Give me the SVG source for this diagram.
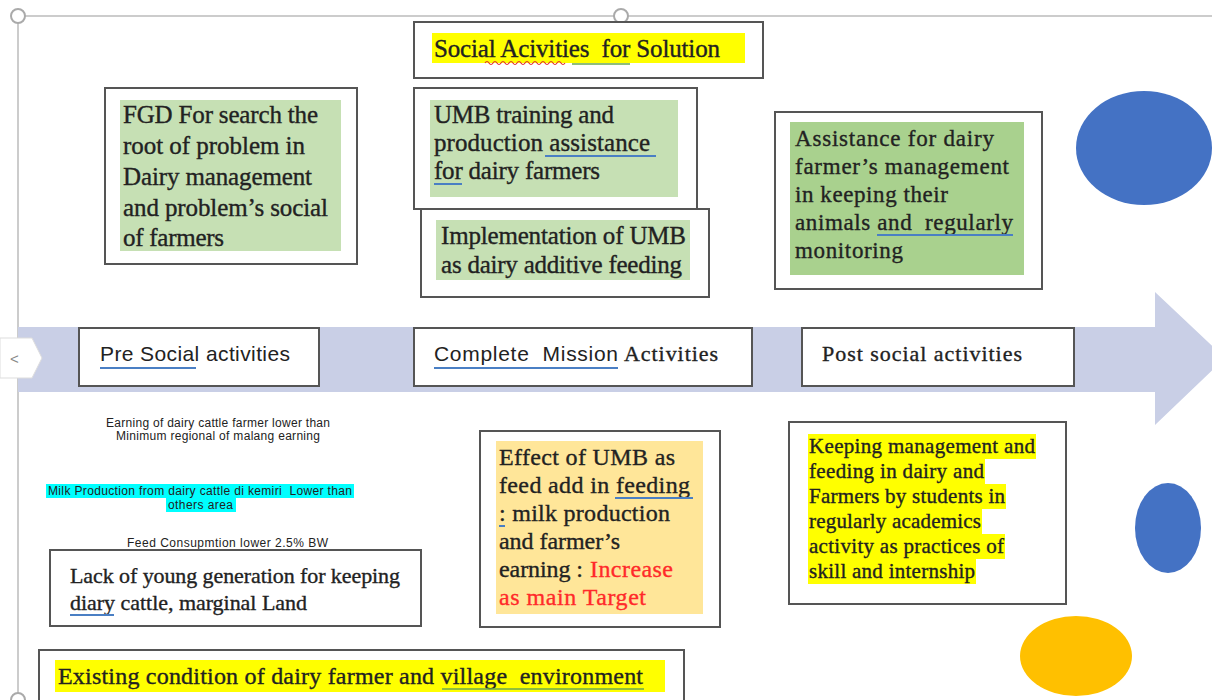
<svg xmlns="http://www.w3.org/2000/svg" width="1212" height="700" viewBox="0 0 1212 700">
  <style>
    .box { fill: #ffffff; stroke: #555555; stroke-width: 2; }
    .serif { font-family: "Liberation Serif", "Times New Roman", serif; fill: #222222; stroke: #222222; stroke-width: 0.35; }
    .sans { font-family: "Liberation Sans", Arial, sans-serif; fill: #222222; }
    .green { fill: #c6e0b4; }
    .green2 { fill: #a9d18e; }
    .hl { fill: #ffff00; }
    .red { fill: #ff2a2a; stroke: #ff2a2a; }
    .ul-blue { stroke: #4a7fc4; stroke-width: 2; fill: none; }
    .ul-green { stroke: #6aa84f; stroke-width: 1.5; fill: none; }
    .handle { fill: #ffffff; stroke: #aaaaaa; stroke-width: 2; }
  </style>

  <rect x="0" y="0" width="1212" height="700" fill="#ffffff"/>

  <!-- canvas frame -->
  <g id="frame">
    <line x1="18" y1="16" x2="1212" y2="16" stroke="#cccccc" stroke-width="2"/>
    <line x1="18" y1="16" x2="18" y2="700" stroke="#cccccc" stroke-width="2"/>
    <circle class="handle" cx="18" cy="16" r="7"/>
    <circle class="handle" cx="621" cy="16" r="7"/>
    <circle class="handle" cx="18" cy="700" r="7"/>
    <circle class="handle" cx="621" cy="700" r="7"/>
  </g>

  <!-- timeline arrow -->
  <g id="connectors">
    <polygon points="18,327 1155,327 1155,292 1225,358 1155,425 1155,392 18,392" fill="#c9cfe6"/>
  </g>

  <!-- collapse tab -->
  <g id="tab">
    <polygon points="0,338 32,338 42,358 32,378 0,378" fill="#ffffff" stroke="#dddddd" stroke-width="1"/>
    <text x="10" y="364" font-family="Liberation Sans, Arial, sans-serif" font-size="15" fill="#888888">&lt;</text>
  </g>

  <!-- decorative ellipses -->
  <g id="shapes">
    <ellipse cx="1144" cy="148" rx="68" ry="57" fill="#4472c4"/>
    <ellipse cx="1168" cy="528" rx="33" ry="45" fill="#4472c4"/>
    <ellipse cx="1076" cy="656" rx="56" ry="40" fill="#ffc000"/>
  </g>

  <!-- title -->
  <g id="node-solution">
    <rect class="box" x="414" y="22" width="349" height="56"/>
    <rect class="hl" x="432" y="33" width="313" height="30"/>
    <text class="serif" x="434" y="57" font-size="25" textLength="286">Social Acivities &#160;for Solution</text>
    <path d="M485,63 q2,-3 4,0 t4,0 t4,0 t4,0 t4,0 t4,0 t4,0 t4,0 t4,0 t4,0 t4,0 t4,0 t4,0 t4,0 t4,0 t4,0 t4,0 t4,0 t4,0 t4,0" stroke="#e03030" stroke-width="1.2" fill="none"/>
    <line class="ul-green" x1="572" y1="64" x2="630" y2="64"/>
  </g>

  <g id="node-fgd">
    <rect class="box" x="105" y="88" width="252" height="176"/>
    <rect class="green" x="120" y="100" width="221" height="151"/>
    <text class="serif" font-size="25">
      <tspan x="123" y="123" textLength="195">FGD For search the</tspan>
      <tspan x="123" y="154" textLength="182">root of problem in</tspan>
      <tspan x="123" y="185" textLength="189">Dairy management</tspan>
      <tspan x="123" y="216" textLength="205">and problem’s social</tspan>
      <tspan x="123" y="246" textLength="101">of farmers</tspan>
    </text>
  </g>

  <g id="node-umb-training">
    <rect class="box" x="414" y="88" width="283" height="121"/>
    <rect class="green" x="430" y="100" width="248" height="97"/>
    <text class="serif" font-size="25">
      <tspan x="434" y="123" textLength="180">UMB training and</tspan>
      <tspan x="434" y="151" textLength="216">production assistance</tspan>
      <tspan x="434" y="179" textLength="166">for dairy farmers</tspan>
    </text>
    <line class="ul-blue" x1="545" y1="156" x2="656" y2="156"/>
    <line class="ul-blue" x1="434" y1="184" x2="462" y2="184"/>
  </g>

  <g id="node-implementation">
    <rect class="box" x="421" y="209" width="288" height="88"/>
    <rect class="green" x="436" y="220" width="254" height="60"/>
    <text class="serif" font-size="25">
      <tspan x="441" y="244" textLength="245">Implementation of UMB</tspan>
      <tspan x="441" y="273" textLength="241">as dairy additive feeding</tspan>
    </text>
  </g>

  <g id="node-assistance">
    <rect class="box" x="775" y="112" width="267" height="177"/>
    <rect class="green2" x="790" y="122" width="234" height="153"/>
    <text class="serif" font-size="23">
      <tspan x="795" y="146" textLength="199">Assistance for dairy</tspan>
      <tspan x="795" y="174" textLength="214">farmer’s management</tspan>
      <tspan x="795" y="202" textLength="153">in keeping their</tspan>
      <tspan x="795" y="230" textLength="218">animals and &#160;regularly</tspan>
      <tspan x="795" y="258" textLength="108">monitoring</tspan>
    </text>
    <line class="ul-blue" x1="877" y1="235" x2="1013" y2="235"/>
  </g>

  <!-- timeline stages -->
  <g id="node-pre">
    <rect class="box" x="79" y="328" width="240" height="58"/>
    <text class="sans" x="100" y="361" font-size="21" textLength="190">Pre Social activities</text>
    <line class="ul-blue" x1="100" y1="368" x2="196" y2="368"/>
  </g>

  <g id="node-complete">
    <rect class="box" x="414" y="328" width="338" height="58"/>
    <text class="sans" x="434" y="361" font-size="21" textLength="184">Complete &#160;Mission</text>
    <text class="serif" x="624" y="361" font-size="22" textLength="94">Activities</text>
    <line class="ul-blue" x1="434" y1="368" x2="618" y2="368"/>
  </g>

  <g id="node-post">
    <rect class="box" x="802" y="328" width="272" height="58"/>
    <text class="serif" x="822" y="361" font-size="22" textLength="200">Post social activities</text>
  </g>

  <!-- existing conditions -->
  <g id="notes">
    <text class="sans" font-size="12">
      <tspan x="106" y="427" textLength="224">Earning of dairy cattle farmer lower than</tspan>
      <tspan x="116" y="440" textLength="204">Minimum regional of malang earning</tspan>
    </text>
    <rect x="46" y="484" width="308" height="14" fill="#00ffff"/>
    <rect x="166" y="498" width="70" height="14" fill="#00ffff"/>
    <text class="sans" font-size="12">
      <tspan x="48" y="495" textLength="304">Milk Production from dairy cattle di kemiri &#160;Lower than</tspan>
      <tspan x="168" y="509" textLength="65">others area</tspan>
    </text>
    <text class="sans" x="127" y="547" font-size="12" textLength="201">Feed Consupmtion lower 2.5% BW</text>
  </g>

  <g id="node-lack">
    <rect class="box" x="50" y="550" width="371" height="76"/>
    <text class="serif" font-size="22">
      <tspan x="70" y="583" textLength="330">Lack of young generation for keeping</tspan>
      <tspan x="70" y="610" textLength="237">diary cattle, marginal Land</tspan>
    </text>
    <line class="ul-blue" x1="70" y1="615" x2="114" y2="615"/>
  </g>

  <g id="node-existing">
    <rect class="box" x="39" y="650" width="645" height="60"/>
    <rect class="hl" x="55" y="660" width="610" height="32"/>
    <text class="serif" x="58" y="684" font-size="24" textLength="585">Existing condition of dairy farmer and village &#160;environment</text>
    <line class="ul-green" x1="442" y1="689" x2="644" y2="689"/>
  </g>

  <!-- expected results -->
  <g id="node-effect">
    <rect class="box" x="480" y="431" width="240" height="196"/>
    <rect x="496" y="441" width="207" height="173" fill="#ffe699"/>
    <text class="serif" font-size="24">
      <tspan x="499" y="465" textLength="176">Effect of UMB as</tspan>
      <tspan x="499" y="493" textLength="191">feed add in feeding</tspan>
      <tspan x="499" y="521" textLength="171">: milk production</tspan>
      <tspan x="499" y="549" textLength="121">and farmer’s</tspan>
      <tspan x="499" y="577" textLength="84">earning :</tspan>
      <tspan class="red" x="590" y="577" textLength="83">Increase</tspan>
      <tspan class="red" x="499" y="605" textLength="147">as main Target</tspan>
    </text>
    <line class="ul-blue" x1="615" y1="498" x2="693" y2="498"/>
    <line class="ul-blue" x1="499" y1="526" x2="505" y2="526"/>
  </g>

  <g id="node-keeping">
    <rect class="box" x="789" y="422" width="277" height="182"/>
    <rect class="hl" x="808" y="434" width="228" height="25"/>
    <rect class="hl" x="808" y="459" width="177" height="25"/>
    <rect class="hl" x="808" y="484" width="198" height="25"/>
    <rect class="hl" x="808" y="509" width="174" height="25"/>
    <rect class="hl" x="808" y="534" width="197" height="25"/>
    <rect class="hl" x="808" y="559" width="168" height="25"/>
    <text class="serif" font-size="21">
      <tspan x="809" y="453" textLength="226">Keeping management and</tspan>
      <tspan x="809" y="478" textLength="175">feeding in dairy and</tspan>
      <tspan x="809" y="503" textLength="196">Farmers by students in</tspan>
      <tspan x="809" y="528" textLength="172">regularly academics</tspan>
      <tspan x="809" y="553" textLength="195">activity as practices of</tspan>
      <tspan x="809" y="578" textLength="166">skill and internship</tspan>
    </text>
  </g>
</svg>
